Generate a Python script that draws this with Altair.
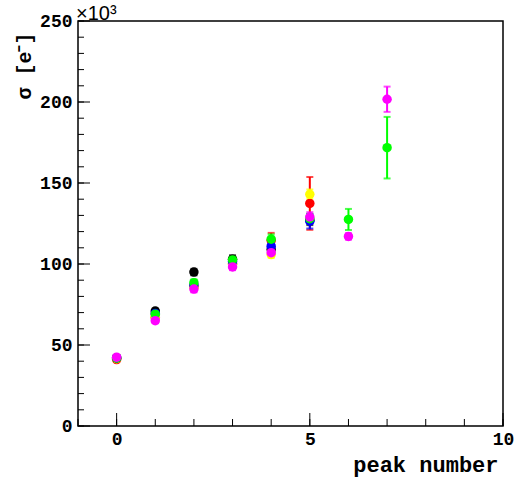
import altair as alt
import pandas as pd

# ---------------- data (values in units of 10^3 e-) ----------------
series_names = ["red", "yellow", "black", "blue", "green", "magenta"]
series_colors = ["#ff0000", "#ffff00", "#000000", "#0000ff", "#00ff00", "#ff00ff"]

red_x = [0, 1, 2, 3, 4, 5]
red_v = [41.0, 67.0, 86.0, 100.0, 114.5, 137.4]
red_e = [1.0, 1.5, 2.0, 2.0, 4.7, 16.3]

yellow_x = [0, 1, 2, 3, 4, 5]
yellow_v = [41.5, 67.5, 85.5, 100.2, 105.8, 143.0]
yellow_e = [1.0, 1.5, 2.0, 2.0, 2.0, 3.0]

black_x = [0, 1, 2, 3, 4, 5]
black_v = [42.0, 71.0, 95.0, 103.0, 109.0, 127.0]
black_e = [1.0, 1.5, 2.0, 2.4, 2.5, 3.0]

blue_x = [0, 1, 2, 3, 4, 5]
blue_v = [42.0, 69.5, 87.0, 101.5, 111.0, 126.4]
blue_e = [1.0, 1.5, 2.0, 2.0, 2.5, 4.5]

green_x = [0, 1, 2, 3, 4, 5, 6, 7]
green_v = [42.0, 69.0, 88.5, 102.5, 115.3, 128.0, 127.5, 171.8]
green_e = [1.0, 1.5, 2.0, 2.0, 3.0, 3.0, 6.5, 19.0]

magenta_x = [0, 1, 2, 3, 4, 5, 6, 7]
magenta_v = [42.5, 65.0, 84.5, 98.2, 107.0, 129.0, 117.0, 201.7]
magenta_e = [1.0, 1.5, 2.0, 2.0, 2.0, 3.0, 2.0, 7.8]

x_label_values = [0, 5, 10]
x_minor_ticks = [-1, 0, 1, 2, 3, 4, 5, 6, 7, 8, 9, 10]
x_major_ticks = [0, 5, 10]
y_label_values = [0, 50, 100, 150, 200, 250]
y_major_ticks = [0, 50, 100, 150, 200, 250]
y_minor_ticks = list(range(0, 251, 10))

# ---------------- table ----------------
rows = []
for name, xs, vs, es in [
    ("red", red_x, red_v, red_e),
    ("yellow", yellow_x, yellow_v, yellow_e),
    ("black", black_x, black_v, black_e),
    ("blue", blue_x, blue_v, blue_e),
    ("green", green_x, green_v, green_e),
    ("magenta", magenta_x, magenta_v, magenta_e),
]:
    for x, v, e in zip(xs, vs, es):
        rows.append({"series": name, "peak": x, "sigma": v, "lo": v - e, "hi": v + e})
df = pd.DataFrame(rows)

FONT = "Liberation Mono"
xscale = alt.Scale(domain=[-1, 10], nice=False, zero=False)
yscale = alt.Scale(domain=[0, 250], nice=False)
cscale = alt.Scale(domain=series_names, range=series_colors)

xaxis = alt.Axis(
    values=x_label_values, ticks=False, domain=False, grid=False,
    labelFont=FONT, labelFontWeight="bold", labelFontSize=18, labelColor="black",
    labelPadding=4, labelFlush=False,
    title="peak number", titleFont=FONT, titleFontWeight="bold", titleFontSize=22,
    titleColor="black", titleAnchor="end", titleAlign="right", titlePadding=6,
    titleX=420,
)
yaxis = alt.Axis(
    values=y_label_values, ticks=False, domain=False, grid=False,
    labelFont=FONT, labelFontWeight="bold", labelFontSize=18, labelColor="black",
    labelPadding=6, labelFlush=False,
    title="σ [e⁻]", titleFont=FONT, titleFontWeight="bold", titleFontSize=20,
    titleColor="black", titleAnchor="end", titleAngle=-90, titleAlign="right",
    titleBaseline="middle", titleX=-54, titleY=11,
)


def X(field):
    return alt.X(field, scale=xscale, axis=xaxis)


def Y(field):
    return alt.Y(field, scale=yscale, axis=yaxis)


base = alt.Chart(df)
col = alt.Color("series:N", scale=cscale, legend=None)

bars = base.mark_rule(strokeWidth=2).encode(
    x=X("peak:Q"), y=Y("lo:Q"), y2="hi:Q", color=col,
)
caps_hi = base.mark_tick(orient="horizontal", size=7, thickness=2).encode(
    x=X("peak:Q"), y=Y("hi:Q"), color=col,
)
caps_lo = base.mark_tick(orient="horizontal", size=7, thickness=2).encode(
    x=X("peak:Q"), y=Y("lo:Q"), color=col,
)
points = base.mark_circle(size=90, opacity=1).encode(
    x=X("peak:Q"), y=Y("sigma:Q"), color=col,
    order=alt.Order("order:Q"),
).transform_calculate(
    order="indexof(['red','yellow','black','blue','green','magenta'], datum.series)"
)

# inward ticks (ROOT style)
ymaj = alt.Chart(pd.DataFrame({"t": y_major_ticks})).mark_rule(color="black", strokeWidth=1).encode(
    y=Y("t:Q"), x=alt.value(0), x2=alt.value(12))
ymin = alt.Chart(pd.DataFrame({"t": y_minor_ticks})).mark_rule(color="black", strokeWidth=1).encode(
    y=Y("t:Q"), x=alt.value(0), x2=alt.value(6))
xmaj = alt.Chart(pd.DataFrame({"t": x_major_ticks})).mark_rule(color="black", strokeWidth=1).encode(
    x=X("t:Q"), y=alt.value(405), y2=alt.value(392))
xmin = alt.Chart(pd.DataFrame({"t": x_minor_ticks})).mark_rule(color="black", strokeWidth=1).encode(
    x=X("t:Q"), y=alt.value(405), y2=alt.value(398))

exp_label = alt.Chart(pd.DataFrame({"s": ["×10³"]})).mark_text(
    font="Liberation Sans", fontSize=20, align="left", baseline="alphabetic", color="black"
).encode(text="s:N", x=alt.value(-2), y=alt.value(-1))

chart = alt.layer(
    ymin, ymaj, xmin, xmaj, bars, caps_hi, caps_lo, points, exp_label
).properties(
    width=425, height=405,
    autosize=alt.AutoSizeParams(type="none"),
    padding={"left": 78, "top": 21, "right": 23, "bottom": 54},
    background="white",
).configure_view(stroke="black", strokeWidth=1.5)

chart.save("out.html", embed_options={"renderer": "svg", "actions": False})
